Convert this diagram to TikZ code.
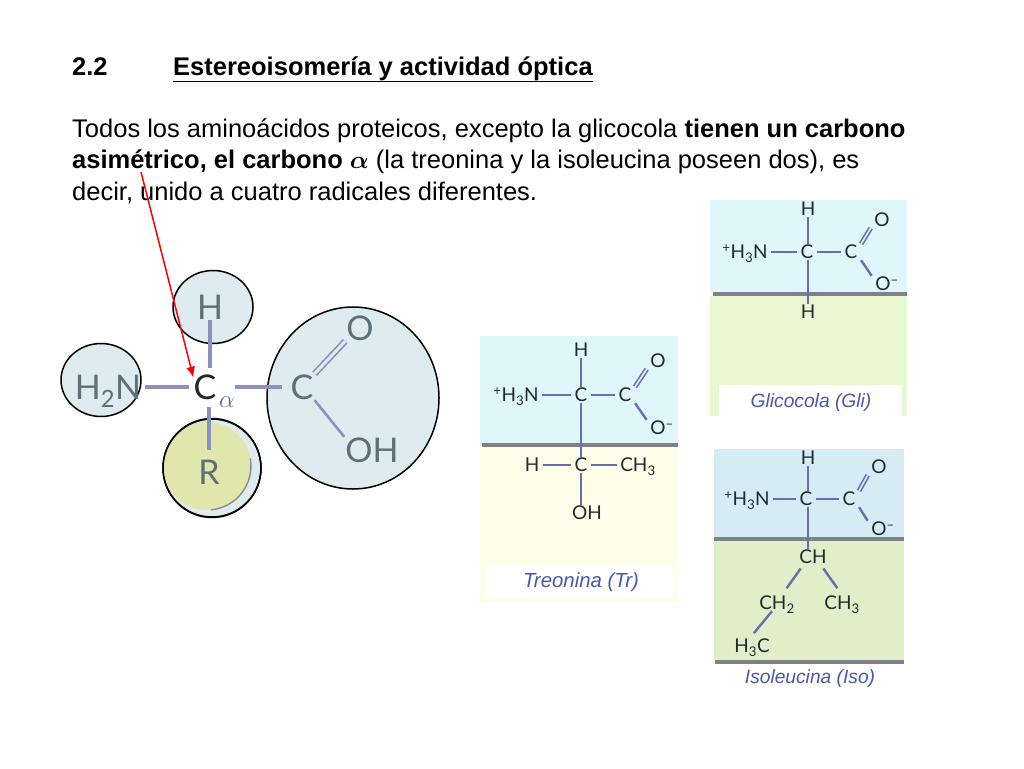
\documentclass[tikz,border=0pt]{standalone}
\usepackage{fontspec}
\setmainfont{Liberation Sans}
\newfontfamily\chemfont{Lato}
\definecolor{panelblue}{HTML}{DFF6FB}
\definecolor{panelgreen}{HTML}{E8F6D2}
\definecolor{panelcream}{HTML}{FEFDE8}
\definecolor{isoblue}{HTML}{D6ECF5}
\definecolor{isogreen}{HTML}{DFF0C8}
\definecolor{circfill}{HTML}{DEECF0}
\definecolor{rfill}{HTML}{E1E7AC}
\definecolor{bondc}{HTML}{6A6CB4}
\definecolor{bigbond}{HTML}{8C90C0}
\definecolor{bigtxt}{HTML}{5C7076}
\definecolor{chemtxt}{HTML}{1E2A30}
\definecolor{labeltxt}{HTML}{4F55A8}
\definecolor{barc}{HTML}{808088}
\usetikzlibrary{shapes.geometric,arrows.meta}
\tikzset{
  x=1pt,y=-1pt,
  para/.style={anchor=base west,inner sep=0,font=\fontsize{25.5}{26}\selectfont},
  circ/.style={draw=black,line width=1.5pt,fill=circfill,ellipse,inner sep=0,minimum width=#1},
  big/.style={inner sep=1pt,text height=24pt,text depth=0pt,text=bigtxt,font=\chemfont\fontsize{34}{34}\selectfont},
  chem/.style={inner xsep=3.5pt,inner ysep=1.5pt,text height=13pt,text depth=0pt,text=chemtxt,font=\chemfont\fontsize{19}{19}\selectfont},
  bond/.style={draw=bondc,line width=2.4pt},
  dbond/.style={draw=bondc,line width=1.6pt,double=panelblue,double distance=1.6pt},
  bigbondl/.style={draw=bigbond,line width=3.4pt},
  bigdbl/.style={draw=bigbond,line width=1.7pt,double=circfill,double distance=3pt},
  bar/.style={draw=barc,line width=3.6pt},
  lab/.style={inner sep=0,text=labeltxt,font=\itshape\fontsize{19.2}{19}\selectfont},
  arrowred/.style={draw=red,line width=1.5pt,-{Latex[length=11pt,width=9pt]}}
}
\begin{document}
\begin{tikzpicture}
\useasboundingbox (0,0) rectangle (1024,768);
\fill[white] (0,0) rectangle (1024,768);
% text
\node[para,font=\fontsize{25.5}{26}\selectfont\bfseries] (t1) at (72,75) {2.2};
\node[para,font=\fontsize{25.5}{26}\selectfont\bfseries] (t2) at (173,75) {\underline{Estereoisomería y actividad óptica}};
\node[para] (t3) at (72,137) {Todos los aminoácidos proteicos, excepto la glicocola \textbf{tienen un carbono}};
\node[para] (t4) at (72,168) {\textbf{asimétrico, el carbono} {\boldmath$\alpha$} (la treonina y la isoleucina poseen dos), es};
\node[para] (t5) at (72,200) {decir, unido a cuatro radicales diferentes.};
% big structure: circles
\node[circ=80pt,minimum height=73pt] (cH) at (213,307) {};
\node[circ=80pt,minimum height=73pt] (cN) at (101,380) {};
\node[circ=98pt,minimum height=99pt] (cR) at (212,468) {};
\fill[rfill] (207,466) circle (44);
\draw[black!45,line width=1.4pt] (207,466) ++(-10:44) arc[start angle=-10,end angle=85,radius=44];
\node[circ=172pt,minimum height=182pt] (cC) at (353,398) {};
\draw[black,line width=1.5pt] (cR.center) circle (49);
% big structure: text
\node[big] (bH) at (210,307) {H};
\node[big] (bN) at (108,387) {H\textsubscript{2}N};
\node[big,text=black!85] (bCa) at (205,387) {C};
\node[inner sep=0,text=bigtxt,font=\fontsize{26}{26}\selectfont] (ba) at (227,402) {$\alpha$};
\node[big] (bC) at (302,387) {C};
\node[big] (bO) at (360,328) {O};
\node[big] (bOH) at (372,450) {OH};
\node[big] (bR) at (209,472) {R};
\draw[bigbondl,shorten >=6pt] (bH.south) -- (bH.south |- bCa.north);
\draw[bigbondl,shorten <=3pt,shorten >=3pt] (bN.east) -- (bCa.west);
\draw[bigbondl,shorten >=7pt] (ba.east |- bC.west) -- (bC.west);
\draw[bigbondl,shorten <=7pt,shorten >=9pt] (bR.north |- bCa.south) -- (bR.north);
\draw[bigdbl] (bC.north east) -- (bO.south west);
\draw[bigbond,line width=2.6pt] (bC.south east) -- (bOH.north west);
% red arrow
\coordinate (ra) at (141,172);
\draw[arrowred,shorten >=-4pt] (ra) -- (bCa.north west);
% Treonina
\fill[panelcream] (480,446) rectangle (678,602);
\fill[panelblue] (480,336) rectangle (678,444);
\draw[bar] (482,445) -- (678,445);
\fill[white] (486,566) rectangle (673,597);
\node[chem] (tH) at (581,350) {H};
\node[chem] (tC) at (581,395) {C};
\node[chem] (tN) at (516,395) {\textsuperscript{+}H\textsubscript{3}N};
\node[chem] (tC2) at (625,395) {C};
\node[chem] (tO) at (658,361) {O};
\node[chem] (tOm) at (658,428) {O\rlap{\textsuperscript{–}}};
\node[chem] (tH2) at (532,465) {H};
\node[chem] (tC3) at (581,465) {C};
\node[chem] (tCH3) at (638,465) {CH\textsubscript{3}};
\node[chem] (tOH) at (587,513) {OH};
\node[lab,font=\itshape\fontsize{20.4}{20}\selectfont] (tL) at (581,582) {Treonina (Tr)};
\draw[bond] (tH) -- (tC);
\draw[bond] (tN) -- (tC);
\draw[bond] (tC) -- (tC2);
\draw[dbond] (tC2.north east) -- (tO.south west);
\draw[bond] (tC2.south east) -- (tOm.north west);
\draw[bond] (tC) -- (tC3);
\draw[bond] (tH2) -- (tC3);
\draw[bond] (tC3) -- (tCH3);
\draw[bond] (tC3) -- (tC3 |- tOH.north);
% Glicocola
\fill[panelgreen] (710,296) rectangle (907,416);
\fill[panelblue] (710,200) rectangle (907,293);
\draw[bar] (713,294) -- (907,294);
\fill[white] (719,385) rectangle (902,416);
\node[chem] (gH) at (808,209) {H};
\node[chem] (gC) at (807,252) {C};
\node[chem] (gN) at (745,252) {\textsuperscript{+}H\textsubscript{3}N};
\node[chem] (gC2) at (851,252) {C};
\node[chem] (gO) at (882,220) {O};
\node[chem] (gOm) at (883,284) {O\rlap{\textsuperscript{–}}};
\node[chem] (gH2) at (808,312) {H};
\node[lab] (gL) at (811,403) {Glicocola (Gli)};
\draw[bond] (gH.south) -- (gH.south |- gC.north);
\draw[bond] (gN) -- (gC);
\draw[bond] (gC) -- (gC2);
\draw[dbond] (gC2.north east) -- (gO.south west);
\draw[bond] (gC2.south east) -- (gOm.north west);
\draw[bond] (gH.south |- gC.south) -- (gH2.north);
% Isoleucina
\fill[isoblue] (714,449) rectangle (904,538);
\fill[isogreen] (714,541) rectangle (904,661);
\draw[bar] (714,539) -- (904,539);
\draw[bar] (715,662) -- (904,662);
\node[chem] (iH) at (808,458) {H};
\node[chem] (iC) at (806,499) {C};
\node[chem] (iN) at (747,499) {\textsuperscript{+}H\textsubscript{3}N};
\node[chem] (iC2) at (849,499) {C};
\node[chem] (iO) at (879,467) {O};
\node[chem] (iOm) at (879,529) {O\rlap{\textsuperscript{–}}};
\node[chem] (iCH) at (813,557) {CH};
\node[chem] (iCH2) at (777,603) {CH\textsubscript{2}};
\node[chem] (iCH3) at (842,603) {CH\textsubscript{3}};
\node[chem] (iH3C) at (752,646) {H\textsubscript{3}C};
\node[lab] (iL) at (810,679) {Isoleucina (Iso)};
\draw[bond] (iH.south) -- (iH.south |- iC.north);
\draw[bond] (iN) -- (iC);
\draw[bond] (iC) -- (iC2);
\draw[dbond,double=isoblue] (iC2.north east) -- (iO.south west);
\draw[bond] (iC2.south east) -- (iOm.north west);
\draw[bond] (iH.south |- iC.south) -- (iH.south |- iCH.north);
\draw[bond,shorten <=4pt,shorten >=8pt] ([xshift=-10pt]iCH.south) -- ([xshift=5pt]iCH2.north);
\draw[bond,shorten <=4pt,shorten >=8pt] ([xshift=8pt]iCH.south) -- (iCH3.north);
\draw[bond,shorten >=6pt] ([xshift=-5pt]iCH2.south) -- ([xshift=-2pt]iH3C.north);
\end{tikzpicture}
\end{document}
